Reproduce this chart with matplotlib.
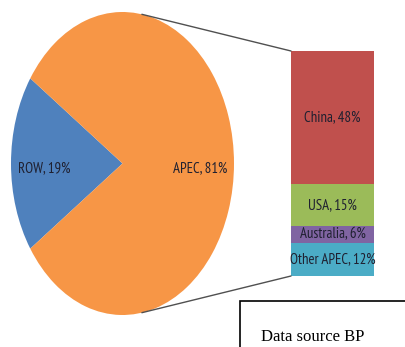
import matplotlib.pyplot as plt
from matplotlib.patches import ConnectionPatch, Rectangle
import numpy as np

# ---------- data ----------
pie_labels = ["ROW", "APEC"]
pie_values = [19, 81]
pie_colors = ["#4F81BD", "#F79646"]

# APEC breakdown, stacked bottom -> top
bar_labels = ["Other APEC", "Australia", "USA", "China"]
bar_values = [12, 6, 15, 48]
bar_colors = ["#4BACC6", "#8064A2", "#9BBB59", "#C0504D"]

source_text = "Data source BP"

# ---------- style ----------
W, H = 406, 347
label_font = ["PT Sans Narrow", "DejaVu Sans"]
text_color = "#1f2030"
fs = 10.6

fig = plt.figure(figsize=(W / 100, H / 100), dpi=100)


def px_axes(x0, y0, x1, y1):
    # axes from pixel box (top-left origin)
    return fig.add_axes([x0 / W, 1 - y1 / H, (x1 - x0) / W, (y1 - y0) / H])


# ---------- pie (stretched vertically) ----------
ax_pie = px_axes(11, 12, 234, 315)
start = 180 - pie_values[0] * 3.6 / 2
wedges, texts = ax_pie.pie(
    pie_values,
    colors=pie_colors,
    startangle=start,
    labels=[f"{n}, {v}%" for n, v in zip(pie_labels, pie_values)],
    labeldistance=0.7,
    wedgeprops=dict(linewidth=0),
    textprops=dict(family=label_font, fontsize=fs, color=text_color),
)
for t in texts:
    t.set_ha("center")
    t.set_va("center")
    x, y = t.get_position()
    t.set_position((x, y - 0.03))
ax_pie.set_aspect("auto")
ax_pie.set_xlim(-1, 1)
ax_pie.set_ylim(-1, 1)
ax_pie.axis("off")

# ---------- stacked bar ----------
ax_bar = px_axes(291, 51, 374, 276)
bottom = 0
for name, val, col in zip(bar_labels, bar_values, bar_colors):
    ax_bar.bar(0, val, width=1, bottom=bottom, color=col, linewidth=0)
    ax_bar.text(0, bottom + val / 2, f"{name}, {val}%", ha="center", va="center",
                family=label_font, fontsize=fs, color=text_color)
    bottom += val
ax_bar.set_xlim(-0.5, 0.5)
ax_bar.set_ylim(0, sum(bar_values))
ax_bar.axis("off")

# ---------- connector lines ----------
ang = np.deg2rad(80)
for sgn, yb in [(1, sum(bar_values)), (-1, 0)]:
    con = ConnectionPatch(
        xyA=(np.cos(ang), sgn * np.sin(ang)), coordsA=ax_pie.transData,
        xyB=(-0.5, yb), coordsB=ax_bar.transData,
        color="#505050", linewidth=1.0,
    )
    fig.add_artist(con)

# ---------- source box ----------
fig.add_artist(Rectangle((240 / W, -0.1), 0.5, 1 - 301 / H + 0.1,
                         transform=fig.transFigure, fill=False,
                         edgecolor="black", linewidth=1.2))
fig.text(261 / W, 1 - 341 / H, source_text, family="Liberation Serif",
         fontsize=12, color="black", ha="left", va="baseline")

fig.savefig("out.png", dpi=100)
